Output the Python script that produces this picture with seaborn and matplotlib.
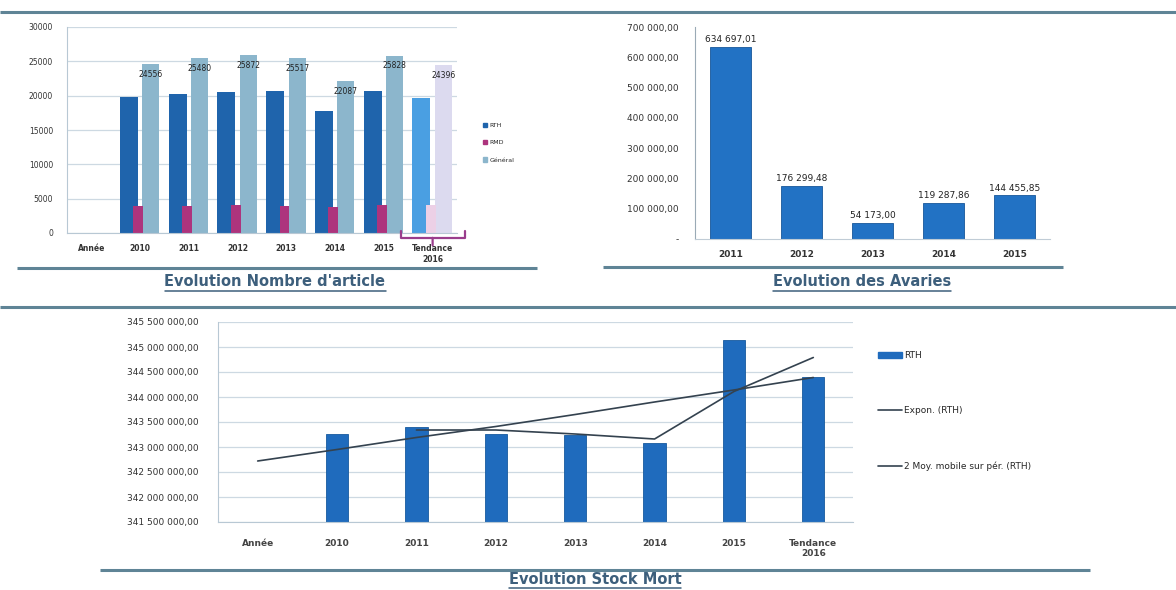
import numpy as np
import matplotlib
matplotlib.use('Agg')
import matplotlib.pyplot as plt
from matplotlib.lines import Line2D
from matplotlib.patches import Patch
import seaborn as sns

sns.set_style('white')
plt.rcParams['font.family'] = ['DejaVu Sans']

# Evolution Nombre d'article
art_cats = ['Année', '2010', '2011', '2012', '2013', '2014', '2015', 'Tendance\n2016']
art_rth = [19850, 20300, 20600, 20700, 17800, 20700, 19700]
art_rmd = [3950, 3980, 4020, 4000, 3850, 4100, 4150]
art_gen = [24556, 25480, 25872, 25517, 22087, 25828, 24396]
art_series = ['RTH', 'RMD', 'Général']

# Evolution des Avaries
av_years = ['2011', '2012', '2013', '2014', '2015']
av_values = [634697.01, 176299.48, 54173.00, 119287.86, 144455.85]

# Evolution Stock Mort
stock_cats = ['Année', '2010', '2011', '2012', '2013', '2014', '2015', 'Tendance\n2016']
stock_rth = [343.27e6, 343.41e6, 343.27e6, 343.25e6, 343.08e6, 345.15e6, 344.40e6]
stock_expon = [342.72e6, 342.95e6, 343.19e6, 343.41e6, 343.65e6, 343.90e6, 344.14e6, 344.39e6]
stock_ma = [np.nan, np.nan, 343.34e6, 343.34e6, 343.26e6, 343.16e6, 344.11e6, 344.79e6]

W, H = 1176, 590
fig = plt.figure(figsize=(W / 100, H / 100), dpi=100)


def px_axes(x0, x1, y0, y1):
    return fig.add_axes([x0 / W, 1 - y1 / H, (x1 - x0) / W, (y1 - y0) / H])


def hline(x0, x1, y, lw=2.2):
    fig.add_artist(Line2D([x0 / W, x1 / W], [1 - y / H, 1 - y / H], transform=fig.transFigure,
                          color='#5f8496', lw=lw, solid_capstyle='butt'))


def fr(v):
    return f"{v:,.2f}".replace(',', ' ').replace('.', ',')


def new_bars(ax, n_before):
    return ax.patches[n_before:]


grid_c = '#cdd9e2'
txt_c = '#333333'

# ---------------- top left ----------------
ax1 = px_axes(67, 457, 27, 233)
pos = np.arange(1, 8)
specs = [(art_rth, -0.23, 0.37, '#1f64ac', '#4a9fe2'),
         (art_gen, 0.22, 0.35, '#8cb6cc', '#dcdaef'),
         (art_rmd, -0.04, 0.20, '#ad347d', '#ecd0e6')]
for vals, off, wd, col, tcol in specs:
    n = len(ax1.patches)
    sns.barplot(x=pos + off, y=vals, native_scale=True, width=wd, color=col,
                saturation=1, errorbar=None, ax=ax1)
    bars = new_bars(ax1, n)
    for b in bars:
        b.set_edgecolor('none')
    bars[-1].set_facecolor(tcol)
for x, v in zip(pos, art_gen):
    ax1.text(x + 0.22, v - 1500, str(v), ha='center', va='center', fontsize=5.5, color='#222222')
ax1.set_xlim(-0.5, 7.5)
ax1.set_ylim(0, 30000)
ax1.set_yticks(range(0, 30001, 5000))
ax1.set_yticklabels([str(t) for t in range(0, 30001, 5000)], fontsize=5.5, color=txt_c)
ax1.set_xticks(range(8))
ax1.set_xticklabels(art_cats, fontsize=5.5, color=txt_c, fontweight='bold')
ax1.tick_params(axis='y', length=0, pad=10)
ax1.tick_params(axis='x', length=0, pad=8)
ax1.yaxis.grid(True, color=grid_c, lw=0.9)
ax1.set_axisbelow(True)
for s in ['top', 'right']:
    ax1.spines[s].set_visible(False)
ax1.spines['left'].set_color('#b8c8d4')
ax1.spines['bottom'].set_color('#b8c8d4')
ax1.set_xlabel('')
ax1.annotate('', xy=(7.0, -300), xytext=(7.0, -2200), annotation_clip=False,
             arrowprops=dict(arrowstyle='-[, widthB=2.3, lengthB=0.5', color='#9a3d8c', lw=1.6))
h1 = [Patch(color=c) for c in ['#1f64ac', '#ad347d', '#8cb6cc']]
fig.legend(h1, art_series, loc='upper left', bbox_to_anchor=(477 / W, 1 - 117 / H), frameon=False,
           fontsize=4.5, handlelength=0.7, handleheight=0.7, labelspacing=1.9, handletextpad=0.4)

# ---------------- top right ----------------
ax2 = px_axes(695, 1050, 27, 239)
sns.barplot(x=av_years, y=av_values, color='#2272c4', saturation=1, width=0.57,
            errorbar=None, ax=ax2, edgecolor='#17569a', linewidth=0.6)
for i, v in enumerate(av_values):
    ax2.text(i, v + 9000, fr(v), ha='center', va='bottom', fontsize=6.5, color='#222222')
ax2.set_xlim(-0.5, 4.5)
ax2.set_ylim(0, 700000)
yt = list(range(0, 700001, 100000))
ax2.set_yticks(yt)
ax2.set_yticklabels(['-'] + [fr(t) for t in yt[1:]], fontsize=6.5, color=txt_c)
ax2.set_xticklabels(av_years, fontsize=6.5, color=txt_c, fontweight='bold')
ax2.tick_params(axis='y', length=0, pad=12)
ax2.tick_params(axis='x', length=0, pad=8)
for s in ['top', 'right']:
    ax2.spines[s].set_visible(False)
ax2.spines['left'].set_color('#9aaab6')
ax2.spines['bottom'].set_color('#c0ccd6')
ax2.set_xlabel('')

# ---------------- bottom ----------------
ax3 = px_axes(218, 853, 322, 522)
sns.barplot(x=np.arange(1, 8), y=stock_rth, native_scale=True, width=0.28, color='#1f6bbd',
            saturation=1, errorbar=None, ax=ax3, edgecolor='#175a9e', linewidth=0.6)
xs = np.arange(8)
sns.lineplot(x=xs, y=stock_expon, color='#34424f', lw=1.2, ax=ax3)
sns.lineplot(x=xs, y=stock_ma, color='#34424f', lw=1.2, ax=ax3)
ax3.set_xlim(-0.5, 7.5)
ax3.set_ylim(341.5e6, 345.5e6)
yt3 = np.arange(341.5e6, 345.5e6 + 1, 0.5e6)
ax3.set_yticks(yt3)
ax3.set_yticklabels([fr(t) for t in yt3], fontsize=6.5, color=txt_c)
ax3.set_xticks(range(8))
ax3.set_xticklabels(stock_cats, fontsize=6.5, color='#444444', fontweight='bold')
ax3.tick_params(axis='y', length=0, pad=14)
ax3.tick_params(axis='x', length=0, pad=12)
ax3.yaxis.grid(True, color=grid_c, lw=0.9)
ax3.set_axisbelow(True)
for s in ['top', 'right']:
    ax3.spines[s].set_visible(False)
ax3.spines['left'].set_color('#b8c8d4')
ax3.spines['bottom'].set_color('#b8c8d4')
ax3.set_xlabel('')
h3 = [Patch(color='#1f6bbd'), Line2D([], [], color='#34424f', lw=1.2),
      Line2D([], [], color='#34424f', lw=1.2)]
fig.legend(h3, ['RTH', 'Expon. (RTH)', '2 Moy. mobile sur pér. (RTH)'], loc='upper left',
           bbox_to_anchor=(870 / W, 1 - 343 / H), frameon=False, fontsize=6.5,
           handlelength=2.6, labelspacing=5.1, handletextpad=0.3)

# separators and titles
hline(0, W, 12)
hline(17, 537, 268)
hline(603, 1063, 267)
hline(0, W, 307)
hline(100, 1090, 570)

title_c = '#3d5f7c'
titles = [("Evolution Nombre d'article", 275, 282), ('Evolution des Avaries', 862, 282),
          ('Evolution Stock Mort', 595, 579)]
fig.canvas.draw()
renderer = fig.canvas.get_renderer()
for txt, x, y in titles:
    t = fig.text(x / W, 1 - y / H, txt, ha='center', va='center', fontsize=10.5,
                 fontweight='bold', color=title_c)
    bb = t.get_window_extent(renderer=renderer)
    yb = bb.y0 - 1
    fig.add_artist(Line2D([bb.x0 / W, bb.x1 / W], [yb / H, yb / H], transform=fig.transFigure,
                          color=title_c, lw=1.1))

fig.savefig('out.png', dpi=100)
